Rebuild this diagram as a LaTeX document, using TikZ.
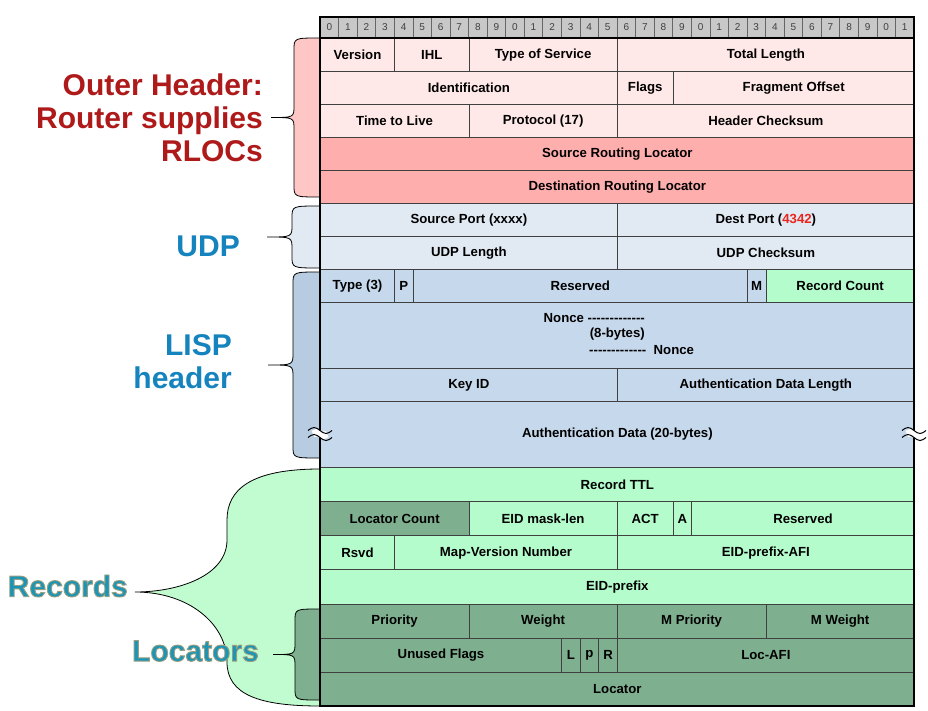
\documentclass[tikz,border=0pt]{standalone}
\usepackage{fontspec}
\setmainfont{Liberation Sans}
\usepackage{xcolor}
\usepackage{tikz}
\usetikzlibrary{positioning}

\definecolor{hdrlight}{HTML}{FFE8E8}
\definecolor{hdrrloc}{HTML}{FFAEAE}
\definecolor{hdrbrace}{HTML}{FFC6C6}
\definecolor{udpfill}{HTML}{E1E9F3}
\definecolor{lispfill}{HTML}{C6D8EC}
\definecolor{lispbrace}{HTML}{B7CBE1}
\definecolor{recfill}{HTML}{B4FCCB}
\definecolor{recbrace}{HTML}{C0FCD0}
\definecolor{locfill}{HTML}{7EB08F}
\definecolor{rulerfill}{HTML}{C8C8C8}
\definecolor{outerred}{HTML}{AE1A1A}
\definecolor{lispblue}{HTML}{1583BE}
\definecolor{recteal}{HTML}{1B95B6}
\definecolor{portred}{HTML}{E8261E}

\def\dashrow{-{}-{}-{}-{}-{}-{}-{}-{}-{}-{}-{}-{}-}
\newcommand\outlined[1]{\special{pdf:literal direct 0.9 w 0.6 0.62 0.5 RG 2 Tr}#1\special{pdf:literal direct 0 Tr}}

\begin{document}
\begin{tikzpicture}[x=1pt, y=-1pt, font=\fontsize{13.2}{15}\selectfont\bfseries,
  cell/.style={draw=black!75, line width=0.7pt, inner sep=0pt},
  bitcell/.style={draw=black!60, fill=rulerfill, line width=0.6pt, minimum width=18.5625pt, minimum height=21pt, inner sep=0pt, font=\fontsize{10}{11}\selectfont, text=black!75},
  sidelabel/.style={font=\fontsize{30}{33}\selectfont\bfseries, inner sep=0pt, align=right},
  brace/.style={draw=black, line width=0.8pt}]
\useasboundingbox (0,0) rectangle (928,711);

% braces behind the table
\filldraw[brace, fill=recbrace] (320,469) .. controls (250,469) and (227,490) .. (227,520) -- (227,540) .. controls (227,575) and (180,592) .. (135,592) .. controls (190,592) and (227,625) .. (227,662) .. controls (227,695) and (260,706) .. (320,706);
\foreach \top/\bot/\xl/\xt/\c in {38/197/294/271/hdrbrace,206/268/292/267/udpfill,272/458/293/268/lispbrace,609/700/295/273/locfill} {
  \pgfmathsetmacro\mid{(\top+\bot)/2}
  \filldraw[brace, fill=\c] (320,\top) .. controls (\xl,\top) and (\xl,\top) .. (\xl,{\top+12}) -- (\xl,{\mid-12}) .. controls (\xl,\mid) and (\xl,\mid) .. (\xt,\mid) .. controls (\xl,\mid) and (\xl,\mid) .. (\xl,{\mid+12}) -- (\xl,{\bot-12}) .. controls (\xl,\bot) and (\xl,\bot) .. (320,\bot); }

% bit ruler
\foreach \i in {0,...,31} {
  \pgfmathtruncatemacro\d{mod(\i,10)}
  \node[bitcell] (bit\i) at ({320+(\i+0.5)*18.5625},27.5) {\d}; }

% header fields: name/top/height/first bit/bits/fill/text
\foreach \n/\y/\h/\b/\w/\c/\t in {version/38/33/0/4/hdrlight/Version, ihl/38/33/4/4/hdrlight/IHL, tos/38/33/8/8/hdrlight/Type of Service, totlen/38/33/16/16/hdrlight/Total Length,
  ident/71/33/0/16/hdrlight/Identification, flags/71/33/16/3/hdrlight/Flags, fragoff/71/33/19/13/hdrlight/Fragment Offset,
  ttl/104/33/0/8/hdrlight/Time to Live, proto/104/33/8/8/hdrlight/Protocol (17), hdrsum/104/33/16/16/hdrlight/Header Checksum,
  srcrloc/137/33/0/32/hdrrloc/Source Routing Locator, dstrloc/170/33/0/32/hdrrloc/Destination Routing Locator,
  sport/203/33/0/16/udpfill/Source Port (xxxx), dport/203/33/16/16/udpfill/{Dest Port (\textcolor{portred}{4342})},
  udplen/236/33/0/16/udpfill/UDP Length, udpsum/236/33/16/16/udpfill/UDP Checksum,
  type/269/33/0/4/lispfill/Type (3), pflag/269/33/4/1/lispfill/P, lispresv/269/33/5/18/lispfill/Reserved, mflag/269/33/23/1/lispfill/M, reccount/269/33/24/8/recfill/Record Count,
  nonce/302/66/0/32/lispfill/{}, keyid/368/33/0/16/lispfill/Key ID, authlen/368/33/16/16/lispfill/Authentication Data Length,
  authdata/401/66/0/32/lispfill/Authentication Data (20-bytes),
  recttl/467/34.14/0/32/recfill/Record TTL,
  loccount/501.14/34.14/0/8/locfill/Locator Count, masklen/501.14/34.14/8/8/recfill/EID mask-len, act/501.14/34.14/16/3/recfill/ACT, aflag/501.14/34.14/19/1/recfill/A, recresv/501.14/34.14/20/12/recfill/Reserved,
  rsvd/535.29/34.14/0/4/recfill/Rsvd, mapver/535.29/34.14/4/12/recfill/Map-Version Number, eidafi/535.29/34.14/16/16/recfill/EID-prefix-AFI,
  eidpfx/569.43/34.14/0/32/recfill/EID-prefix,
  prio/603.57/34.14/0/8/locfill/Priority, weight/603.57/34.14/8/8/locfill/Weight, mprio/603.57/34.14/16/8/locfill/M Priority, mweight/603.57/34.14/24/8/locfill/M Weight,
  unused/637.71/34.14/0/13/locfill/Unused Flags, lflag/637.71/34.14/13/1/locfill/L, pbit/637.71/34.14/14/1/locfill/p, rflag/637.71/34.14/15/1/locfill/R, locafi/637.71/34.14/16/16/locfill/Loc-AFI,
  locator/671.86/34.14/0/32/locfill/Locator} {
  \node[cell, fill=\c, minimum width={\w*18.5625pt}, minimum height=\h pt, anchor=north west] (\n) at ({320+\b*18.5625},\y) {\t}; }

\node[anchor=east, inner sep=0pt] (nonceA) at (645,318) {Nonce \dashrow};
\node[anchor=east, inner sep=0pt] (nonceB) at (645,334) {(8-bytes)};
\node[anchor=west, inner sep=0pt] (nonceC) at (589,350) {\dashrow\ \ Nonce};

% frame
\draw[line width=1.4pt] (320,38) -- (914,38);
\draw[line width=2.6pt] (320,17) rectangle (914,706);

% break marks on the authentication data
\foreach \x in {320,914} {
  \draw[white, line width=7pt] ({\x-7},434) sin ({\x-3.5},432.5) cos (\x,434) sin ({\x+3.5},435.5) cos ({\x+7},434);
  \draw[line width=1pt] ({\x-12},430.5) sin ({\x-6},427.5) cos (\x,430.5) sin ({\x+6},433.5) cos ({\x+12},430.5);
  \draw[line width=1pt] ({\x-12},437.5) sin ({\x-6},434.5) cos (\x,437.5) sin ({\x+6},440.5) cos ({\x+12},437.5); }

% side labels
\node[sidelabel, text=outerred, anchor=north east] (outer) at (263,74) {Outer Header:\\Router supplies\\RLOCs};
\node[sidelabel, text=lispblue, anchor=east] (udp) at (240,246) {UDP};
\node[sidelabel, text=lispblue, anchor=north east] (lisp) at (232,334) {LISP\\header};
\node[sidelabel, text=recteal, anchor=east] (records) at (128,586) {\outlined{Records}};
\node[sidelabel, text=recteal, anchor=east] (locators) at (259,651) {\outlined{Locators}};
\end{tikzpicture}
\end{document}
